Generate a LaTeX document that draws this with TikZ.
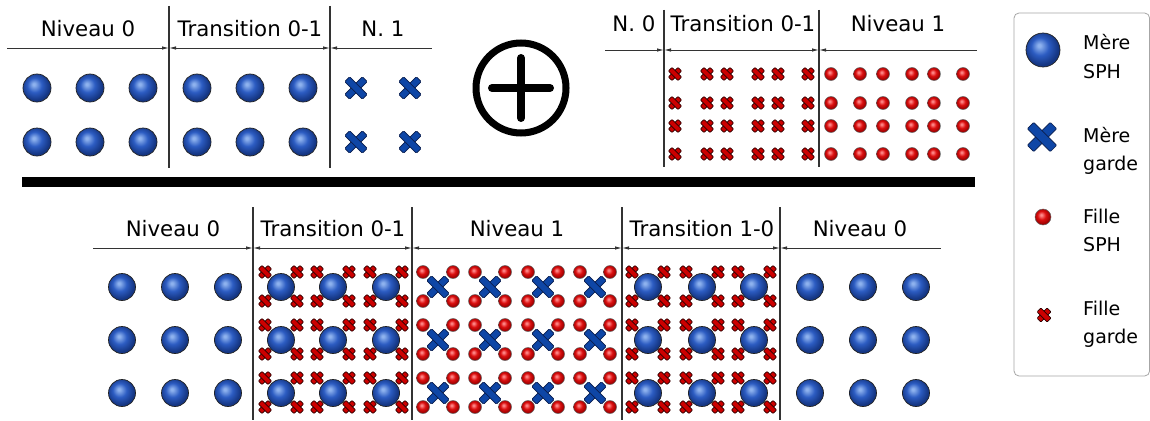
\documentclass[tikz,border=0pt]{standalone}
\usepackage{fontspec}
\setmainfont{DejaVu Sans}
\usetikzlibrary{arrows.meta}
\definecolor{bluehl}{HTML}{8EB2EE}
\definecolor{bluemid}{HTML}{2C5CC2}
\definecolor{bluedk}{HTML}{153683}
\definecolor{redhl}{HTML}{FF8C8C}
\definecolor{redmid}{HTML}{DC1010}
\definecolor{reddk}{HTML}{9C0000}
\definecolor{outl}{HTML}{222222}
\definecolor{bcrossfill}{HTML}{0E46A6}
\definecolor{bcrossline}{HTML}{0A1E4E}
\definecolor{rcrossfill}{HTML}{CC0000}
\definecolor{rcrossline}{HTML}{2A0000}
\definecolor{linegray}{HTML}{333333}
\pgfdeclareradialshading{bsphsh}{\pgfqpoint{-6bp}{7bp}}{color(0bp)=(bluehl); color(2bp)=(bluehl); color(13bp)=(bluemid); color(25bp)=(bluedk); color(50bp)=(bluedk)}
\pgfdeclareradialshading{rsphsh}{\pgfqpoint{-6bp}{7bp}}{color(0bp)=(redhl); color(2bp)=(redhl); color(13bp)=(redmid); color(25bp)=(reddk); color(50bp)=(reddk)}
\tikzset{
  bsph/.pic={\shadedraw[shading=bsphsh, draw=outl, line width=0.7pt] (0,0) circle (#1);},
  rsph/.pic={\shadedraw[shading=rsphsh, draw=outl!70, line width=0.5pt] (0,0) circle (#1);},
  bcross/.pic={\begin{scope}[rotate=45]
      \filldraw[fill=bcrossfill, draw=bcrossline, line width=0.7pt, rounded corners=1pt] (-12.5,-3.5) rectangle (12.5,3.5);
      \filldraw[fill=bcrossfill, draw=bcrossline, line width=0.7pt, rounded corners=1pt] (-3.5,-12.5) rectangle (3.5,12.5);
    \end{scope}},
  rcross/.pic={\begin{scope}[rotate=45]
      \filldraw[fill=rcrossfill, draw=rcrossline, line width=0.7pt, rounded corners=0.8pt] (-6.8,-2.6) rectangle (6.8,2.6);
      \filldraw[fill=rcrossfill, draw=rcrossline, line width=0.7pt, rounded corners=0.8pt] (-2.6,-6.8) rectangle (2.6,6.8);
    \end{scope}},
  lbl/.style={anchor=base, inner sep=0pt, font=\fontsize{21.3}{25}\selectfont, text=black},
  leg/.style={anchor=base west, inner sep=0pt, font=\fontsize{19}{23}\selectfont, text=black},
  arr/.style={draw=linegray, line width=0.9pt},
  tip/.style={-{Latex[length=7pt,width=3.5pt]}},
  tipb/.style={{Latex[length=7pt,width=3.5pt]}-{Latex[length=7pt,width=3.5pt]}},
  tipa/.style={{Latex[length=7pt,width=3.5pt]}-},
  divider/.style={draw=linegray, line width=1.1pt},
}
\begin{document}
\begin{tikzpicture}[x=1pt,y=1pt]
\useasboundingbox (0,0) rectangle (1150,-420);
\fill[white] (0,0) rectangle (1150,-420);

% ---------------- top left ----------------
\node[lbl] (tl0) at (88,-37) {Niveau 0};
\node[lbl] (tl1) at (250,-37) {Transition 0-1};
\node[lbl] (tl2) at (383,-37) {N. 1};
\coordinate (ta0) at (7,-48);
\coordinate (ta1) at (169,-48);
\coordinate (ta2) at (330,-48);
\coordinate (ta3) at (432,-48);
\draw[arr,tip] (ta0) -- (ta1);
\draw[arr,tipb] (ta1) -- (ta2);
\draw[arr,tipa] (ta2) -- (ta3);
\coordinate (tv1a) at (169,-6); \coordinate (tv1b) at (169,-168);
\coordinate (tv2a) at (330,-6); \coordinate (tv2b) at (330,-168);
\draw[divider] (tv1a) -- (tv1b);
\draw[divider] (tv2a) -- (tv2b);
\foreach \x in {37,90,143,197,250,303}
  \foreach \y in {88,142}
    \pic at (\x,-\y) {bsph=14};
\foreach \x in {356,410}
  \foreach \y in {88,142}
    \pic at (\x,-\y) {bcross};

% ---------------- circled plus ----------------
\node[circle, draw, line width=7pt, minimum size=90pt, inner sep=0pt] (plus) at (521,-88) {};
\draw[line width=8pt, line cap=round] ([xshift=-29pt]plus.center) -- ([xshift=29pt]plus.center);
\draw[line width=8pt, line cap=round] ([yshift=-30pt]plus.center) -- ([yshift=30pt]plus.center);

% ---------------- top right ----------------
\node[lbl] (tr0) at (634,-32) {N. 0};
\node[lbl] (tr1) at (743,-32) {Transition 0-1};
\node[lbl] (tr2) at (898,-32) {Niveau 1};
\coordinate (ra0) at (605,-50);
\coordinate (ra1) at (664,-50);
\coordinate (ra2) at (819,-50);
\coordinate (ra3) at (977,-50);
\draw[arr,tip] (ra0) -- (ra1);
\draw[arr,tipb] (ra1) -- (ra2);
\draw[arr,tipa] (ra2) -- (ra3);
\coordinate (rv1a) at (664,-10); \coordinate (rv1b) at (664,-167);
\coordinate (rv2a) at (819,-10); \coordinate (rv2b) at (819,-167);
\draw[divider] (rv1a) -- (rv1b);
\draw[divider] (rv2a) -- (rv2b);
\foreach \x in {675,707,727,758,778,808}
  \foreach \y in {74,103,126,154}
    \pic at (\x,-\y) {rcross};
\foreach \x in {831,860,883,912,934,963}
  \foreach \y in {74,103,126,154}
    \pic at (\x,-\y) {rsph=6.5};

% ---------------- separator bar ----------------
\fill[black] (22,-177) rectangle (975,-187);

% ---------------- bottom ----------------
\node[lbl] (bl0) at (173,-236) {Niveau 0};
\node[lbl] (bl1) at (333,-236) {Transition 0-1};
\node[lbl] (bl2) at (517,-236) {Niveau 1};
\node[lbl] (bl3) at (702,-236) {Transition 1-0};
\node[lbl] (bl4) at (860,-236) {Niveau 0};
\coordinate (ba0) at (93,-248);
\coordinate (ba1) at (253,-248);
\coordinate (ba2) at (412,-248);
\coordinate (ba3) at (622,-248);
\coordinate (ba4) at (780,-248);
\coordinate (ba5) at (941,-248);
\draw[arr,tip] (ba0) -- (ba1);
\draw[arr,tipb] (ba1) -- (ba2);
\draw[arr,tipb] (ba2) -- (ba3);
\draw[arr,tipb] (ba3) -- (ba4);
\draw[arr,tipa] (ba4) -- (ba5);
\foreach \x [count=\i] in {253,412,622,780}{
  \coordinate (bv\i a) at (\x,-207);
  \coordinate (bv\i b) at (\x,-420);
  \draw[divider] (bv\i a) -- (bv\i b);
}
\foreach \x in {122,175,228,810,863,916}
  \foreach \y in {287,340,393}
    \pic at (\x,-\y) {bsph=13.5};
\foreach \x in {281,333,386,648,702,754}
  \foreach \y in {287,340,393}{
    \foreach \dx/\dy in {-16/-15,16/-15,-16/14,16/14}
      \pic at (\x+\dx,-\y-\dy) {rcross};
    \pic at (\x,-\y) {bsph=13.5};
  }
\foreach \x in {438,490,543,595}
  \foreach \y in {287,340,393}{
    \pic at (\x,-\y) {bcross};
    \foreach \dx/\dy in {-15/-15,15/-15,-15/14,15/14}
      \pic at (\x+\dx,-\y-\dy) {rsph=6.5};
  }

% ---------------- legend ----------------
\draw[rounded corners=5pt, draw=gray!70, line width=0.8pt] (1014,-13) rectangle (1149.6,-376);
\pic at (1043,-50) {bsph=17};
\pic[scale=1.3] at (1042,-137) {bcross};
\pic at (1043,-217) {rsph=8};
\pic[scale=1.05] at (1044,-315) {rcross};
\node[leg] (l1a) at (1083,-50) {Mère};
\node[leg] (l1b) at (1083,-78) {SPH};
\node[leg] (l2a) at (1083,-142) {Mère};
\node[leg] (l2b) at (1083,-170) {garde};
\node[leg] (l3a) at (1083,-223) {Fille};
\node[leg] (l3b) at (1083,-251) {SPH};
\node[leg] (l4a) at (1083,-315) {Fille};
\node[leg] (l4b) at (1083,-343) {garde};
\end{tikzpicture}
\end{document}
